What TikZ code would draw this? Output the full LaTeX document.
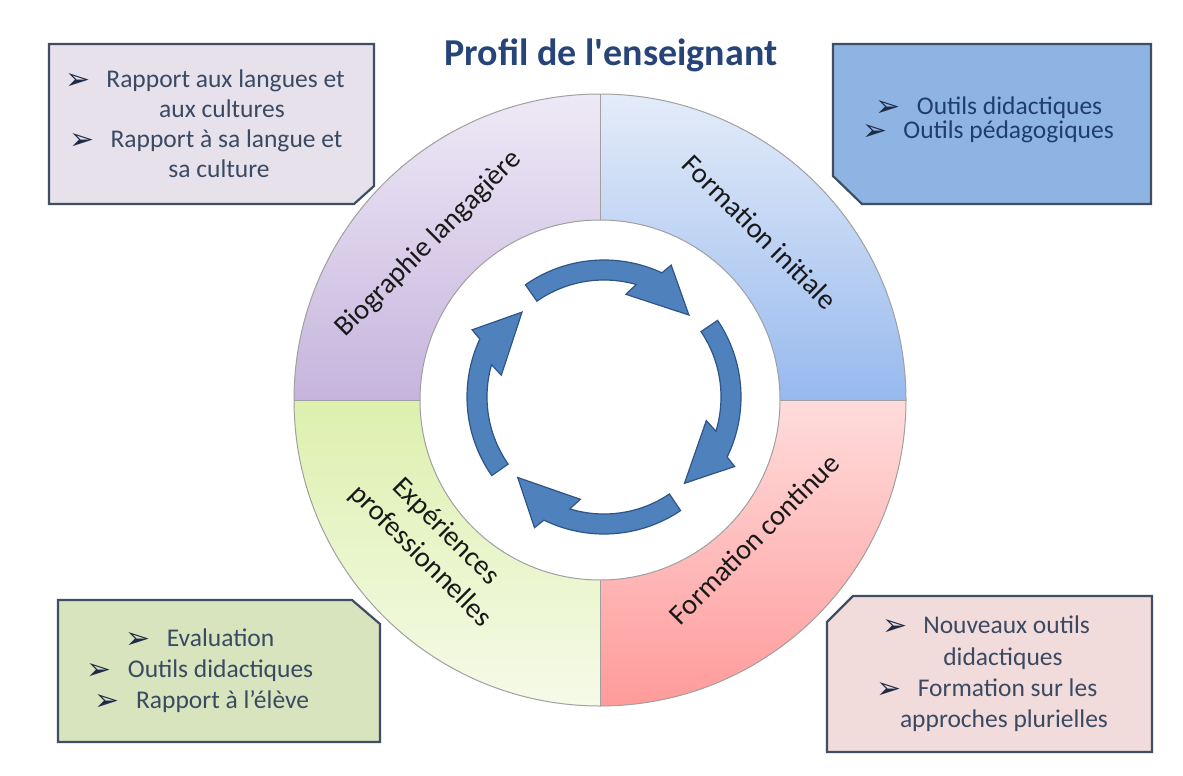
\documentclass[tikz,border=0pt]{standalone}
\usepackage{fontspec}
\newfontfamily\carl{Carlito}
\newfontfamily\dejavu{DejaVu Sans}
\definecolor{tlfill}{HTML}{E7E1EC}
\definecolor{trfill}{HTML}{8EB4E3}
\definecolor{blfill}{HTML}{D7E4BD}
\definecolor{brfill}{HTML}{F2DCDB}
\definecolor{boxedge}{HTML}{3F4E63}
\definecolor{boxtext}{HTML}{3A4A62}
\definecolor{trtext}{HTML}{1F3D6E}
\definecolor{bulcol}{HTML}{1E2B45}
\definecolor{titlecol}{HTML}{264478}
\definecolor{tlt}{HTML}{EEE9F6}
\definecolor{tlb}{HTML}{C6B4DD}
\definecolor{trt}{HTML}{E4ECF9}
\definecolor{trb}{HTML}{97B9EE}
\definecolor{blt}{HTML}{DDF0AE}
\definecolor{blb}{HTML}{F6FAE8}
\definecolor{brt}{HTML}{FFDCDC}
\definecolor{brb}{HTML}{FF9A9A}
\definecolor{ringedge}{HTML}{A0A0A0}
\definecolor{cycfill}{HTML}{4F81BD}
\definecolor{cycedge}{HTML}{2F5587}
\newcommand\bul{\raisebox{-2.5pt}{\dejavu\fontsize{30}{30}\selectfont\color{bulcol}➢}\hspace{16pt}}
\begin{document}
\begin{tikzpicture}[x=1pt,y=1pt,
  boxshape/.style={draw=boxedge, line width=2.2pt, line join=miter},
  boxtxt/.style={anchor=base, inner sep=0pt, text=boxtext, font=\carl\fontsize{25.5}{30}\selectfont},
  ringtxt/.style={inner sep=0pt, text=black!90, font=\carl\fontsize{28.5}{35}\selectfont, align=center},
  ringline/.style={draw=ringedge, line width=1pt},
  cyc/.style={fill=cycfill, draw=cycedge, line width=1.2pt, line join=miter}]
\useasboundingbox[fill=white] (0,0) rectangle (1183,-776);

% boxes
\draw[boxshape, fill=tlfill] (49,-44) -- (374,-44) -- (374,-186) -- (354,-204) -- (49,-204) -- cycle;
\draw[boxshape, fill=trfill] (833,-44) -- (1151,-44) -- (1151,-204) -- (862,-204) -- (833,-176) -- cycle;
\draw[boxshape, fill=blfill] (58,-600) -- (352,-600) -- (380,-624) -- (380,-742) -- (58,-742) -- cycle;
\draw[boxshape, fill=brfill] (853,-596) -- (1152,-596) -- (1152,-752) -- (827,-752) -- (827,-622) -- cycle;

% ring
\begin{scope}[shift={(600,-400)}]
  \shade[top color=tlt, bottom color=tlb] (90:306) arc[start angle=90, end angle=180, radius=306] -- (180:180) arc[start angle=180, end angle=90, radius=180] -- cycle;
  \shade[top color=trt, bottom color=trb] (0:306) arc[start angle=0, end angle=90, radius=306] -- (90:180) arc[start angle=90, end angle=0, radius=180] -- cycle;
  \shade[top color=blt, bottom color=blb] (180:306) arc[start angle=180, end angle=270, radius=306] -- (270:180) arc[start angle=270, end angle=180, radius=180] -- cycle;
  \shade[top color=brt, bottom color=brb] (270:306) arc[start angle=270, end angle=360, radius=306] -- (0:180) arc[start angle=0, end angle=-90, radius=180] -- cycle;
  \draw[ringline] (0,0) circle[radius=306];
  \draw[ringline] (0,0) circle[radius=180];
  \draw[ringline] (0,180) -- (0,306);
  \draw[ringline] (0,-180) -- (0,-306);
  \draw[ringline] (180,0) -- (306,0);
  \draw[ringline] (-180,0) -- (-306,0);
\end{scope}

% cycle arrows
\begin{scope}[shift={(604,-397)}]
  \foreach \T in {125,34,-56,-145}{
    \filldraw[cyc] (\T:137) arc[start angle=\T, end angle=\T-60, radius=137] -- (\T-62:148) -- (\T-81:118) -- (\T-47:105) -- (\T-51:117) arc[start angle=\T-51, end angle=\T, radius=117] -- cycle;
  }
\end{scope}

% title
\node[anchor=base, inner sep=0pt, text=titlecol, font=\carl\bfseries\fontsize{38}{44}\selectfont] (title) at (611,-66) {Profil de l'enseignant};

% ring labels
\node[ringtxt, rotate=45] (bio) at (429,-244) {Biographie langagière};
\node[ringtxt, rotate=-45] (fi) at (760,-232) {Formation initiale};
\node[ringtxt, rotate=45] (fc) at (754,-539) {Formation continue};
\node[ringtxt, rotate=-45] (exp) at (433,-544) {Expériences\\professionnelles};

% top-left box text
\node[boxtxt] (tl1) at (205,-87) {\bul Rapport aux langues et};
\node[boxtxt] (tl2) at (222,-117) {aux cultures};
\node[boxtxt] (tl3) at (206,-147) {\bul Rapport à sa langue et};
\node[boxtxt] (tl4) at (219,-177) {sa culture};

% top-right box text
\node[boxtxt, text=trtext] (tr1) at (989,-114) {\bul Outils didactiques};
\node[boxtxt, text=trtext] (tr2) at (988,-138) {\bul Outils pédagogiques};

% bottom-left box text
\node[boxtxt] (bl1) at (200,-646) {\bul Evaluation};
\node[boxtxt] (bl2) at (200,-677) {\bul Outils didactiques};
\node[boxtxt] (bl3) at (202,-708) {\bul Rapport à l’élève};

% bottom-right box text
\node[boxtxt] (br1) at (986,-633) {\bul Nouveaux outils};
\node[boxtxt] (br2) at (1003,-665) {didactiques};
\node[boxtxt] (br3) at (987,-696) {\bul Formation sur les};
\node[boxtxt] (br4) at (1004,-727) {approches plurielles};
\end{tikzpicture}
\end{document}
